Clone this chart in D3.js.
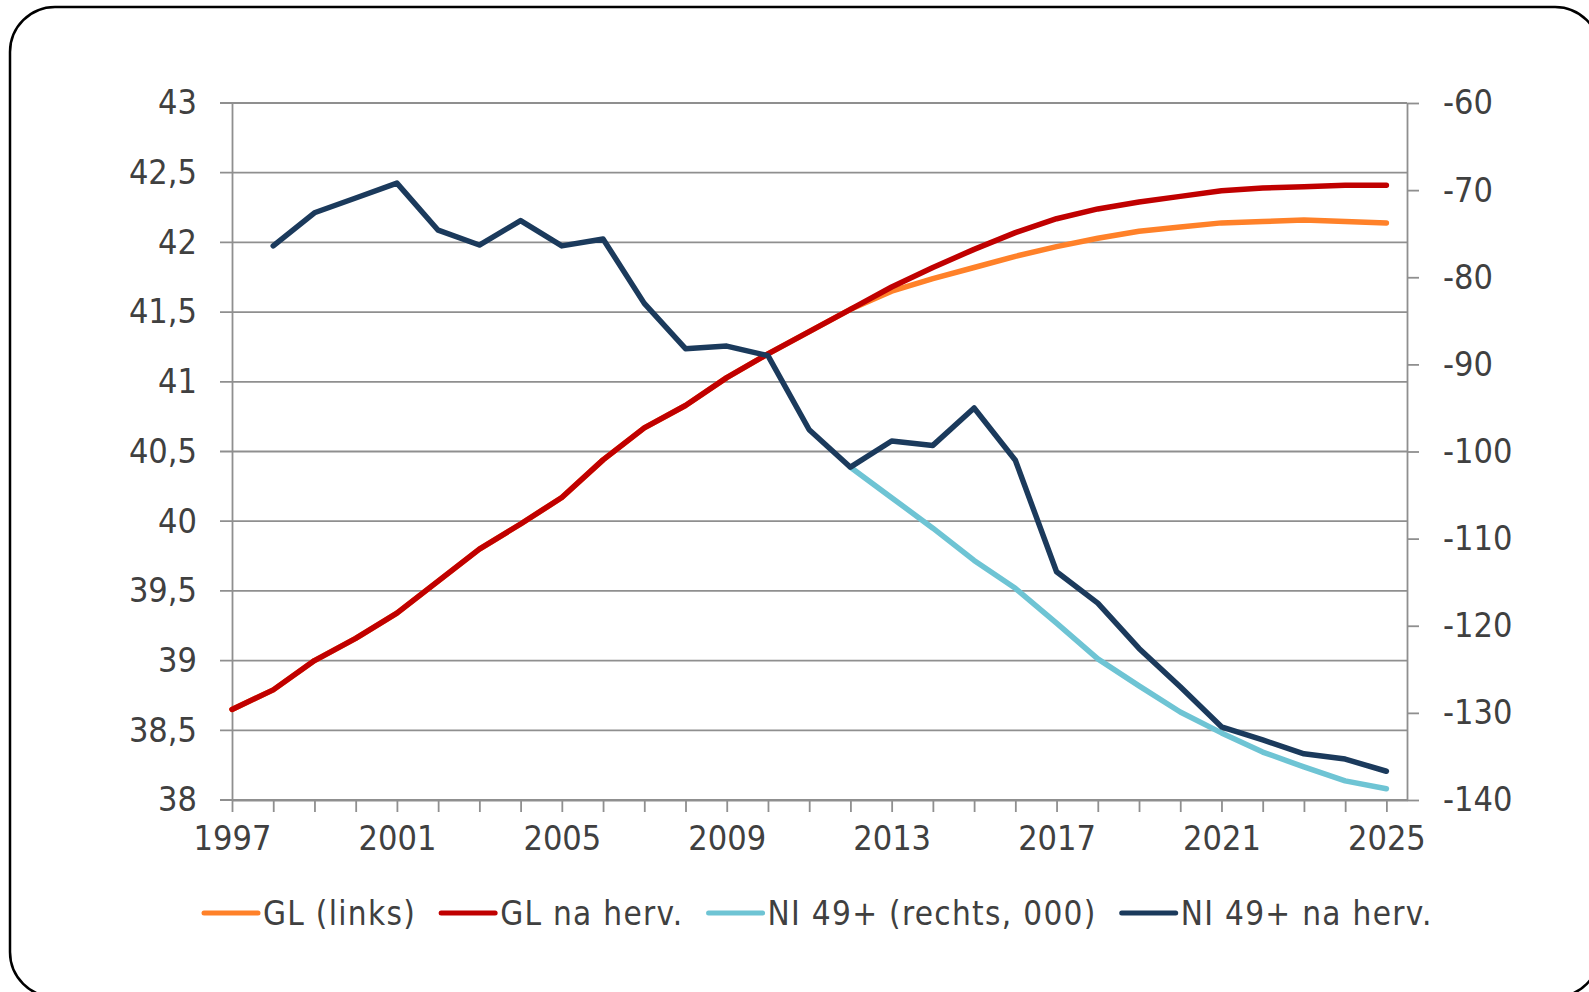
<!DOCTYPE html>
<html>
<head>
<meta charset="utf-8">
<script src="https://cdn.jsdelivr.net/npm/d3@7"></script>
<style>
  body { margin: 0; background: #fff; }
  text { font-family: "DejaVu Sans Condensed", "DejaVu Sans", sans-serif; fill: #404040; }
</style>
</head>
<body>
<div id="chart"></div>
<script>
var svgWidth = 1589;
var svgHeight = 992;

// data
var years = d3.range(1997, 2026);
var glNaHerv = [38.65, 38.79, 39.00, 39.16, 39.34, 39.57, 39.80, 39.98, 40.17, 40.44,
  40.67, 40.83, 41.03, 41.20, 41.36, 41.52, 41.68, 41.82, 41.95, 42.07,
  42.17, 42.24, 42.29, 42.33, 42.37, 42.39, 42.40, 42.41, 42.41];
var glLinks = [38.65, 38.79, 39.00, 39.16, 39.34, 39.57, 39.80, 39.98, 40.17, 40.44,
  40.67, 40.83, 41.03, 41.20, 41.36, 41.52, 41.65, 41.74, 41.82, 41.90,
  41.97, 42.03, 42.08, 42.11, 42.14, 42.15, 42.16, 42.15, 42.14];
var niNaHerv = [null, -76.4, -72.6, -70.9, -69.2, -74.6, -76.3, -73.5, -76.4, -75.6,
  -83.0, -88.2, -87.9, -89.0, -97.5, -101.8, -98.8, -99.3, -95.0, -101.0,
  -113.8, -117.4, -122.6, -127.0, -131.6, -133.1, -134.7, -135.3, -136.7];
var niRechts = [null, null, null, null, null, null, null, null, null, null,
  null, null, null, null, null, -101.8, -105.3, -108.8, -112.5, -115.7,
  -119.7, -123.8, -126.9, -129.9, -132.3, -134.5, -136.2, -137.8, -138.7];

var leftTicks = d3.range(38, 43.01, 0.5);
var rightTicks = d3.range(-140, -59, 10);
var xLabelYears = [1997, 2001, 2005, 2009, 2013, 2017, 2021, 2025];

var legendNames = ["GL (links)", "GL na herv.", "NI 49+ (rechts, 000)", "NI 49+ na herv."];
var colors = ["#FF8129", "#C00000", "#6EC4D4", "#1B3A5C"];

var svg = d3.select("#chart")
  .append("svg")
  .attr("width", svgWidth)
  .attr("height", svgHeight);

// rounded frame
svg.append("rect")
  .attr("x", 10)
  .attr("y", 7)
  .attr("width", 1590)
  .attr("height", 990)
  .attr("rx", 45)
  .attr("fill", "none")
  .attr("stroke", "#000")
  .attr("stroke-width", 2.5);

var x = d3.scaleLinear().domain([1997, 2025.5]).range([232, 1407]);
var yL = d3.scaleLinear().domain([38, 43]).range([800, 103]);
var yR = d3.scaleLinear().domain([-140, -60]).range([800, 103]);

var grey = "#8f8f8f";

// gridlines
svg.append("g")
  .selectAll("line")
  .data(leftTicks)
  .enter()
  .append("line")
  .attr("x1", 220)
  .attr("x2", 1407)
  .attr("y1", d => yL(d))
  .attr("y2", d => yL(d))
  .attr("stroke", grey)
  .attr("stroke-width", 1.8);

// left axis
var leftAxis = d3.axisLeft(yL)
  .tickValues(leftTicks)
  .tickSize(0)
  .tickPadding(35)
  .tickFormat(d => d3.format(".1~f")(d).replace(".", ","));
var gLeft = svg.append("g")
  .attr("transform", "translate(232,0)")
  .call(leftAxis);
gLeft.select(".domain").attr("stroke", grey).attr("stroke-width", 1.8);
gLeft.selectAll("text").attr("font-size", 34).attr("fill", "#404040");

// right axis
var rightAxis = d3.axisRight(yR)
  .tickValues(rightTicks)
  .tickSizeInner(12)
  .tickSizeOuter(0)
  .tickPadding(24)
  .tickFormat(d => String(d));
var gRight = svg.append("g")
  .attr("transform", "translate(1407,0)")
  .call(rightAxis);
gRight.select(".domain").attr("stroke", grey).attr("stroke-width", 1.8);
gRight.selectAll("line").attr("stroke", grey).attr("stroke-width", 1.8);
gRight.selectAll("text").attr("font-size", 34).attr("fill", "#404040");

// bottom axis: a tick for every year, label every 4 years
var bottomAxis = d3.axisBottom(x)
  .tickValues(years)
  .tickSizeInner(12)
  .tickSizeOuter(0)
  .tickPadding(14)
  .tickFormat(d => xLabelYears.indexOf(d) >= 0 ? d : "");
var gBottom = svg.append("g")
  .attr("transform", "translate(0,800)")
  .call(bottomAxis);
gBottom.select(".domain").attr("stroke", grey).attr("stroke-width", 1.8);
gBottom.selectAll("line").attr("stroke", grey).attr("stroke-width", 1.8);
gBottom.selectAll("text").attr("font-size", 34).attr("fill", "#404040");

// lines
var series = [
  { values: glLinks, y: yL },
  { values: glNaHerv, y: yL },
  { values: niRechts, y: yR },
  { values: niNaHerv, y: yR }
];

series.forEach(function(s, i) {
  var line = d3.line()
    .defined((d, j) => s.values[j] !== null)
    .x((d, j) => x(years[j]))
    .y((d, j) => s.y(s.values[j]));
  svg.append("path")
    .datum(s.values)
    .attr("d", line)
    .attr("fill", "none")
    .attr("stroke", colors[i])
    .attr("stroke-width", 5.5)
    .attr("stroke-linejoin", "round")
    .attr("stroke-linecap", "round");
});

// legend
var legend = svg.append("g");
var lx = 204;
legendNames.forEach(function(name, i) {
  legend.append("line")
    .attr("x1", lx)
    .attr("x2", lx + 54)
    .attr("y1", 913)
    .attr("y2", 913)
    .attr("stroke", colors[i])
    .attr("stroke-width", 5)
    .attr("stroke-linecap", "round");
  var t = legend.append("text")
    .attr("x", lx + 59)
    .attr("y", 925)
    .attr("font-size", 33)
    .attr("letter-spacing", 1.3)
    .text(name);
  lx = lx + 59 + t.node().getComputedTextLength() + 25;
});
</script>
</body>
</html>
